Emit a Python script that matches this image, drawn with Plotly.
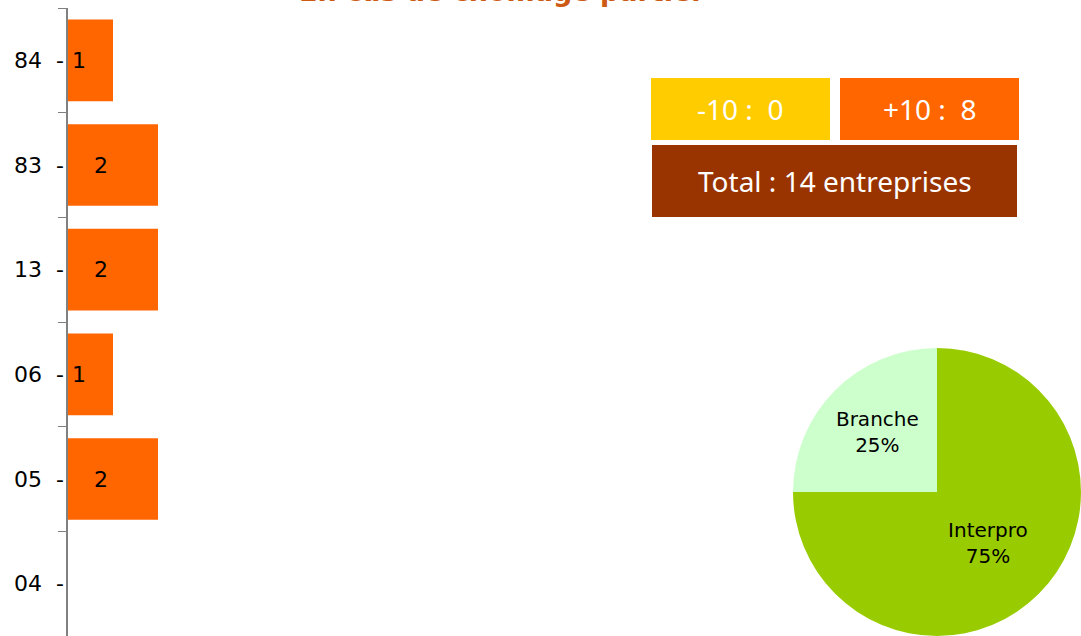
import plotly.graph_objects as go

# données
departements = ["04", "05", "06", "13", "83", "84"]
nb_entreprises = [0, 2, 1, 2, 2, 1]

pie_labels = ["Branche", "Interpro"]
pie_values = [25, 75]
pie_colors = ["#CCFFCC", "#99CC00"]

box_moins10 = "-10 :  0"
box_plus10 = "+10 :  8"
box_total = "Total : 14 entreprises"
titre = "En cas de chômage partiel"

W, H = 1081, 636
ML, MT, MB = 68, 8, 0
PW, PH = W - ML, H - MT - MB


def px_x(x):
    return (x - ML) / PW


def px_y(y):
    return (H - MB - y) / PH


fig = go.Figure()

fig.add_trace(
    go.Bar(
        x=nb_entreprises,
        y=departements,
        orientation="h",
        marker=dict(color="#FF6600", line_width=0),
        width=0.78,
        hoverinfo="skip",
        showlegend=False,
    )
)

# étiquettes des barres (y = indice de catégorie)
annotations = []
for i, v in enumerate(nb_entreprises):
    if v > 0:
        annotations.append(
            dict(x=v / 2, y=i, xref="x", yref="y", text=str(v), showarrow=False,
                 xanchor="center", yanchor="middle", xshift=-12,
                 font=dict(family="DejaVu Sans", size=22, color="black"))
        )

fig.add_trace(
    go.Pie(
        labels=pie_labels,
        values=pie_values,
        marker=dict(colors=pie_colors, line=dict(width=0)),
        sort=False,
        direction="clockwise",
        rotation=-90,
        textinfo="label+percent",
        textposition="inside",
        insidetextorientation="horizontal",
        textfont=dict(family="DejaVu Sans", size=20, color="black"),
        domain=dict(x=[px_x(937 - 144), 1.0], y=[0.0, px_y(492 - 144)]),
        showlegend=False,
        hoverinfo="skip",
    )
)

# encadrés
shapes = []
for x0, x1, y0, y1, col in [(651, 830, 78, 140, "#FFCC00"), (840, 1019, 78, 140, "#FF6600"),
                             (652, 1017, 145, 217, "#993300")]:
    shapes.append(dict(type="rect", xref="paper", yref="paper", x0=px_x(x0), x1=px_x(x1),
                       y0=px_y(y1), y1=px_y(y0), fillcolor=col, line_width=0, layer="below"))

box_font = dict(family="Noto Sans", size=28, color="white")
annotations += [
    dict(x=px_x(740), y=px_y(109), text=box_moins10, font=box_font),
    dict(x=px_x(929), y=px_y(109), text=box_plus10, font=box_font),
    dict(x=px_x(835), y=px_y(181), text=box_total, font=box_font),
]
for a in annotations[-3:]:
    a.update(xref="paper", yref="paper", showarrow=False, xanchor="center", yanchor="middle")

annotations.append(
    dict(x=px_x(500), y=px_y(9), xref="paper", yref="paper", text="<b>" + titre + "</b>", showarrow=False,
         xanchor="center", yanchor="bottom", font=dict(family="DejaVu Sans", size=27, color="#CC5A14"))
)

fig.update_layout(
    width=W,
    height=H,
    margin=dict(l=ML, r=0, t=MT, b=MB, pad=0),
    paper_bgcolor="white",
    plot_bgcolor="white",
    shapes=shapes,
    annotations=annotations,
    bargap=0.22,
)
fig.update_xaxes(range=[0, PW / 45], visible=False, fixedrange=True)
fig.update_yaxes(
    type="category",
    categoryorder="array",
    categoryarray=departements,
    range=[-0.5, len(departements) - 0.5],
    tickmode="array",
    tickvals=departements,
    ticktext=[d + "  -" for d in departements],
    tickson="boundaries",
    ticks="outside",
    ticklen=8,
    tickcolor="#808080",
    showline=True,
    linecolor="#808080",
    linewidth=1.5,
    showgrid=False,
    ticklabelstandoff=-2,
    tickfont=dict(family="DejaVu Sans", size=22, color="black"),
    fixedrange=True,
)

fig.write_html("out.html", post_script="document.body.style.margin='0';",
               config={"displayModeBar": False})
